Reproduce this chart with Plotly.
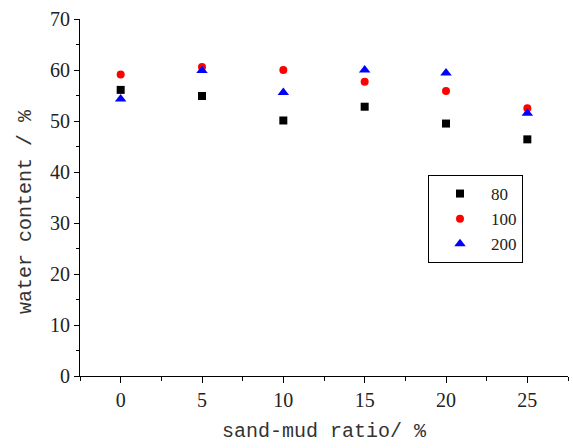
import plotly.graph_objects as go

ratio = [0, 5, 10, 15, 20, 25]
wc_80 = [56.1, 54.9, 50.1, 52.8, 49.5, 46.4]
wc_100 = [59.1, 60.6, 60.0, 57.7, 55.9, 52.5]
wc_200 = [54.3, 59.9, 55.6, 60.0, 59.4, 51.5]

series = [
    ("80", wc_80, "square", "black", 8),
    ("100", wc_100, "circle", "red", 8),
    ("200", wc_200, "triangle-up", "blue", 10),
]

fig = go.Figure()
for name, vals, sym, col, sz in series:
    fig.add_trace(go.Scatter(x=ratio, y=vals, mode="markers", name=name,
                             marker=dict(symbol=sym, color=col, size=sz, line=dict(width=0))))

H = 448; W = 573
pl, pr, pt, pb = 80, 5, 19, 72
pw, ph = W - pl - pr, H - pt - pb

tickfont = dict(family="Liberation Serif", size=20, color="#222")
fig.update_layout(
    width=W, height=H,
    margin=dict(l=pl, r=pr, t=pt, b=pb),
    paper_bgcolor="white", plot_bgcolor="white",
    showlegend=True,
    legend=dict(x=(428 - pl) / pw, y=(H - pb - 175) / ph, xanchor="left", yanchor="top",
                bordercolor="black", borderwidth=1, bgcolor="white",
                font=dict(family="Liberation Serif", size=17, color="#222"),
                itemwidth=52, tracegroupgap=0),
    xaxis=dict(range=[-2.5, 27.5], tickvals=[0, 5, 10, 15, 20, 25],
               showline=True, linecolor="black", linewidth=1, showgrid=False, zeroline=False,
               ticks="outside", ticklen=6, tickcolor="black", tickfont=tickfont,
               minor=dict(dtick=2.5, tick0=-2.5, ticks="outside", ticklen=4, tickcolor="black", showgrid=False)),
    yaxis=dict(range=[0, 70], dtick=10, showline=True, linecolor="black", linewidth=1,
               showgrid=False, zeroline=False,
               ticks="outside", ticklen=5, tickcolor="black", tickfont=tickfont,
               minor=dict(dtick=5, ticks="outside", ticklen=3, tickcolor="black", showgrid=False)),
    annotations=[
        dict(text="sand-mud ratio/ %", x=(324 - pl) / pw, y=(H - pb - 432) / ph,
             xref="paper", yref="paper", yanchor="middle",
             showarrow=False, font=dict(family="Liberation Mono", size=20, color="#333")),
        dict(text="water content / %", x=(25 - pl) / pw, y=(H - pb - 212) / ph,
             xref="paper", yref="paper", xanchor="center", yanchor="middle",
             textangle=-90, showarrow=False, font=dict(family="Liberation Mono", size=20, color="#333")),
    ],
)

fig.write_html("out.html", config={"displayModeBar": False},
               post_script="document.body.style.margin='0';")
